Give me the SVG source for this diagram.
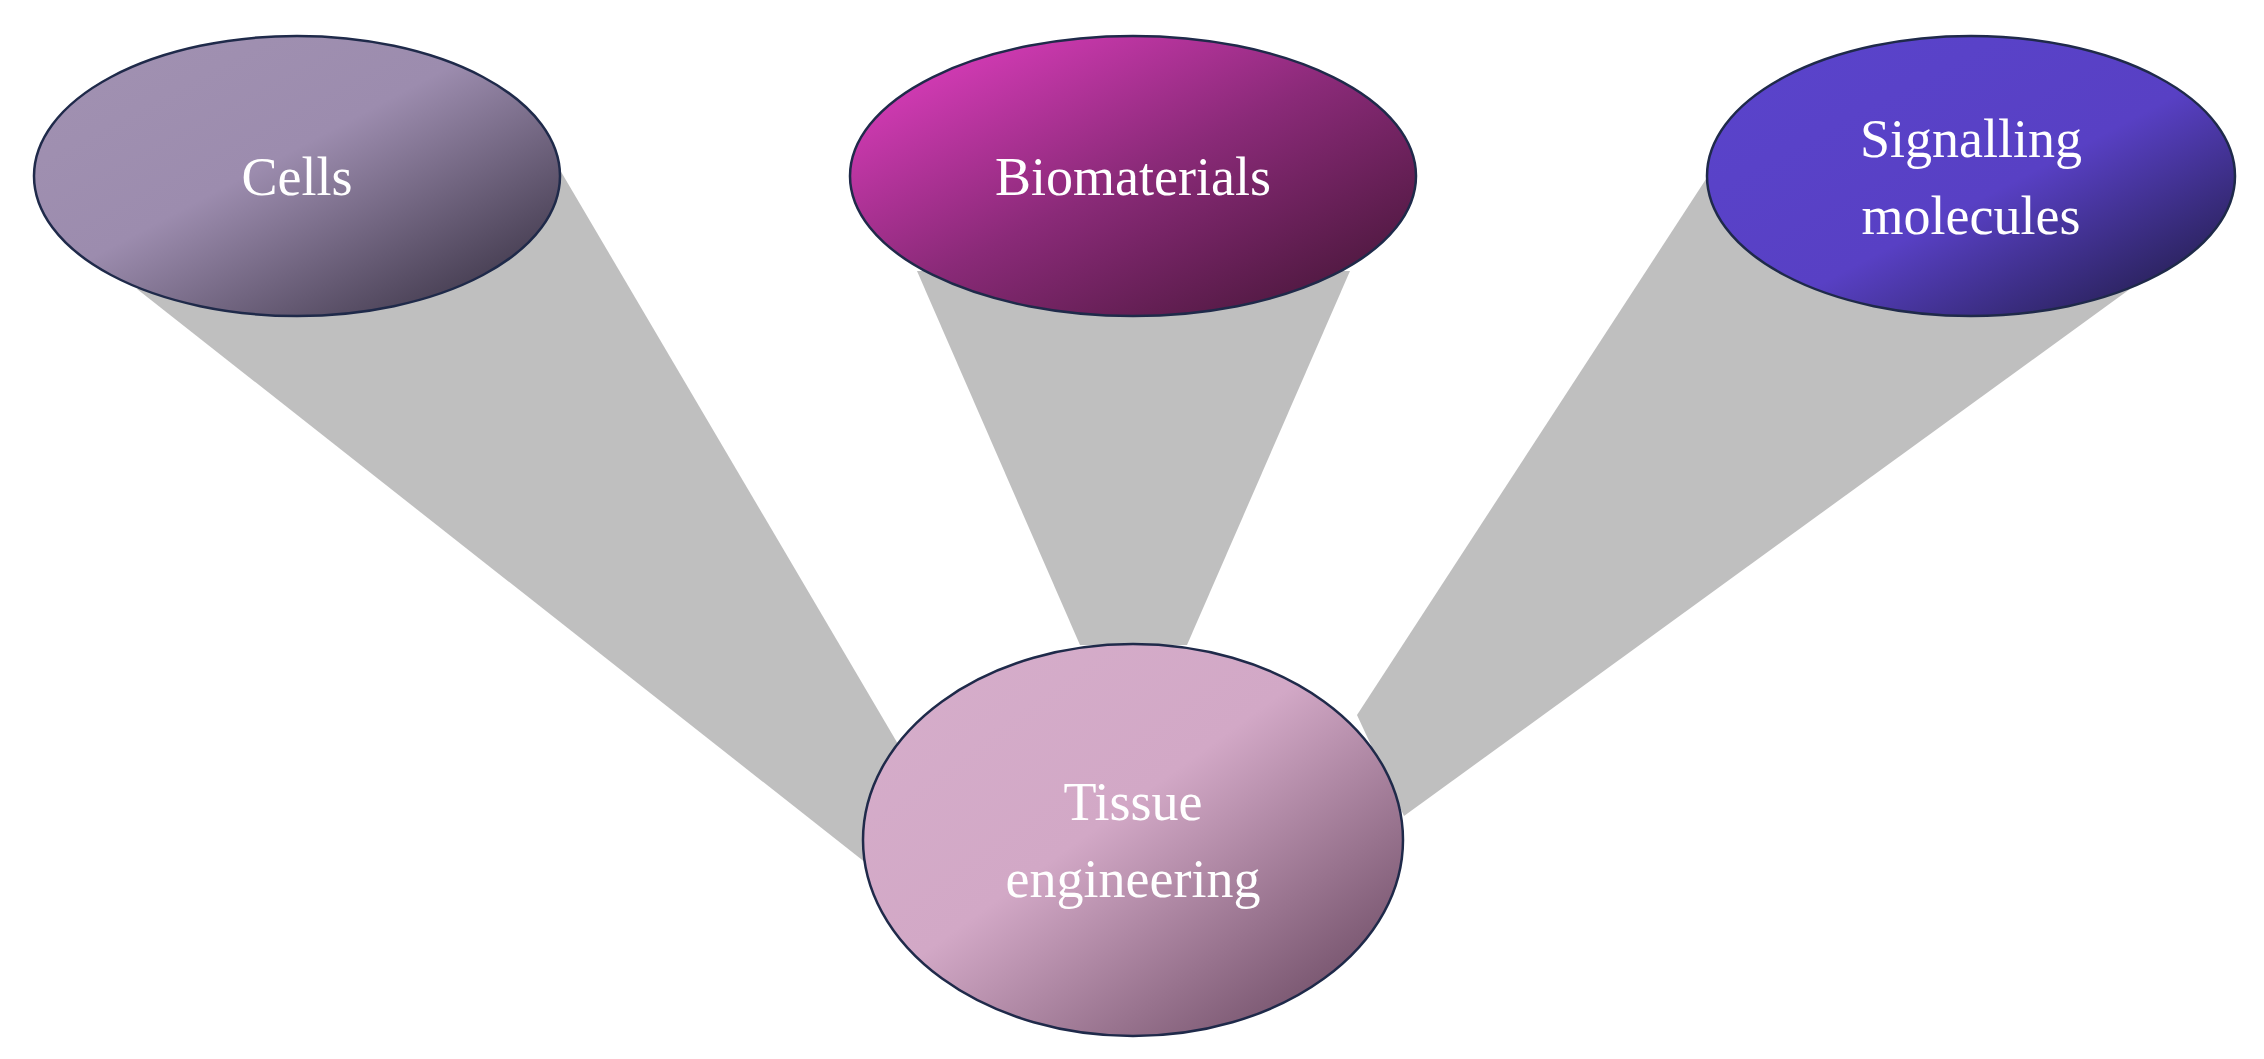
<svg xmlns="http://www.w3.org/2000/svg" width="2264" height="1059" viewBox="0 0 2264 1059">
<style>
.n{stroke:#1f2a4a;stroke-width:2.5}
.t{font-family:"Liberation Serif",serif;font-size:54px;fill:#fff;text-anchor:middle}
.b{fill:#bfbfbf}
</style>
<defs>
<linearGradient id="g1" x1="0" y1="0" x2="1" y2="1"><stop offset="0" stop-color="#a292b2"/><stop offset="0.45" stop-color="#9c8cae"/><stop offset="1" stop-color="#2e2838"/></linearGradient>
<linearGradient id="g2" x1="0" y1="0" x2="1" y2="1"><stop offset="0" stop-color="#ea40c8"/><stop offset="0.5" stop-color="#8a2a78"/><stop offset="1" stop-color="#3e1430"/></linearGradient>
<linearGradient id="g3" x1="0" y1="0" x2="1" y2="1"><stop offset="0" stop-color="#5a44cc"/><stop offset="0.55" stop-color="#5840c4"/><stop offset="1" stop-color="#1a1838"/></linearGradient>
<linearGradient id="g4" x1="0" y1="0" x2="1" y2="1"><stop offset="0" stop-color="#d6aecb"/><stop offset="0.45" stop-color="#d2a8c6"/><stop offset="1" stop-color="#5e3e56"/></linearGradient>
</defs>
<rect width="2264" height="1059" fill="#fff"/>
<g id="connectors">
<polygon class="b" points="137,289 560,170 898,744 866,863"/>
<polygon class="b" points="917,271 1350,271 1187,645 1080,645"/>
<polygon class="b" points="1708,176 2130,289 1404,816 1357,715"/>
</g>
<g id="cells"><ellipse class="n" cx="297" cy="176" rx="263" ry="140" fill="url(#g1)"/><text class="t" x="297" y="195">Cells</text></g>
<g id="biomaterials"><ellipse class="n" cx="1133" cy="176" rx="283" ry="140" fill="url(#g2)"/><text class="t" x="1133" y="195">Biomaterials</text></g>
<g id="signalling"><ellipse class="n" cx="1971" cy="176" rx="264" ry="140" fill="url(#g3)"/><text class="t" x="1971" y="157">Signalling</text><text class="t" x="1971" y="234">molecules</text></g>
<g id="tissue"><ellipse class="n" cx="1133" cy="840" rx="270" ry="196" fill="url(#g4)"/><text class="t" x="1133" y="820">Tissue</text><text class="t" x="1133" y="897">engineering</text></g>
</svg>
